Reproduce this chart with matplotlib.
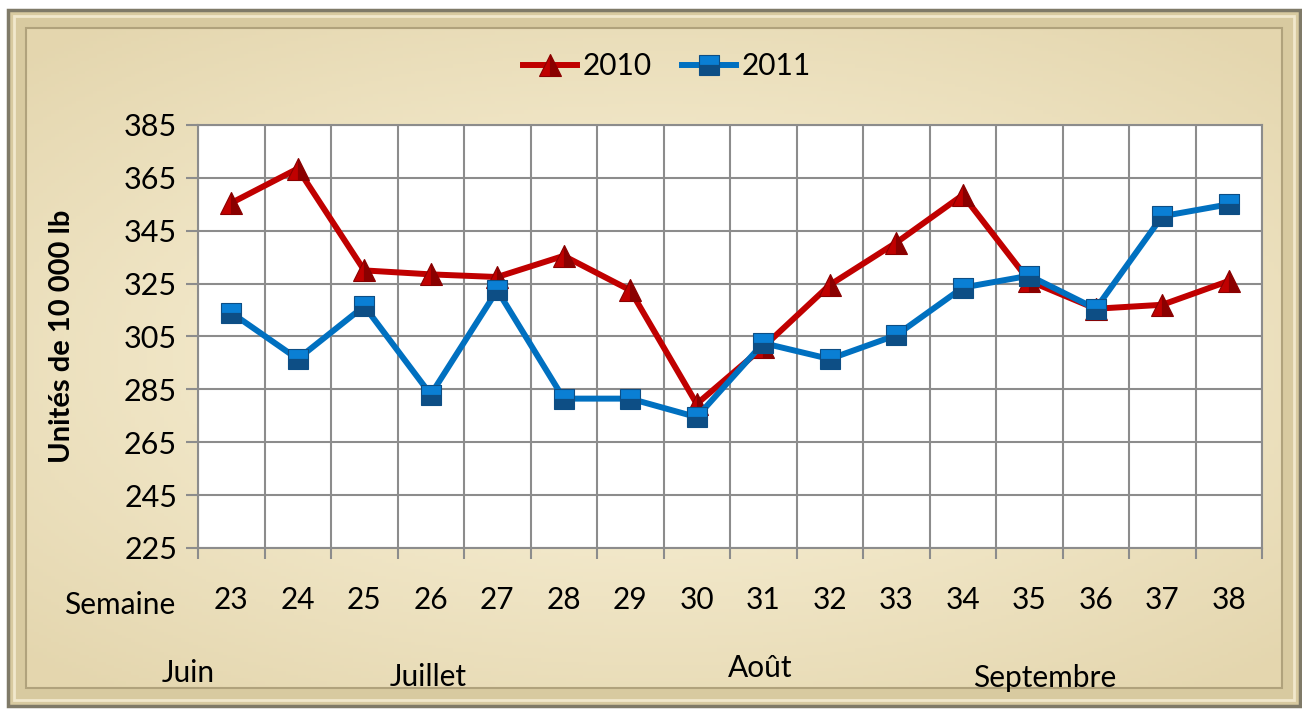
import numpy as np
import matplotlib
matplotlib.use("Agg")
import matplotlib.pyplot as plt
from matplotlib.patches import Rectangle
from matplotlib.transforms import blended_transform_factory

weeks = [23, 24, 25, 26, 27, 28, 29, 30, 31, 32, 33, 34, 35, 36, 37, 38]
y2010 = [355.5, 368.5, 330, 328.5, 327.5, 335.5, 322.5, 279.5,
         301, 324.5, 340.5, 358.5, 326, 315.5, 317, 326]
y2011 = [314, 296.5, 316.5, 283, 322.5, 281.5, 281.5, 274.5,
         302.5, 296.5, 305.5, 323.5, 328, 315.5, 350.5, 355]
y_ticks = [225, 245, 265, 285, 305, 325, 345, 365, 385]
months = ["Juin", "Juillet", "Août", "Septembre"]

W, H = 1302, 710
plt.rcParams['font.family'] = ['Lato', 'DejaVu Sans']
fig = plt.figure(figsize=(W / 100, H / 100), dpi=100)
fig.patch.set_facecolor("white")


def fx(px):
    return px / W


def fy(py):
    return 1 - py / H


# beveled frame + cream gradient background
bg = fig.add_axes([0, 0, 1, 1], zorder=-5)
bg.set_xlim(0, W)
bg.set_ylim(H, 0)
bg.axis("off")
bg.add_patch(Rectangle((8, 10), 1292, 696, facecolor="#d8caa0",
                       edgecolor="#7f7a68", lw=2.5))
bg.add_patch(Rectangle((14, 16), 1280, 684, facecolor="none",
                       edgecolor="#f1e8cc", lw=2))
gx, gy = np.meshgrid(np.linspace(-1, 1, 300), np.linspace(-1, 1, 200))
r = np.clip(np.sqrt((gx * 0.9) ** 2 + (gy * 1.0) ** 2), 0, 1.3) / 1.3
c0 = np.array([0xfd, 0xf6, 0xdf]) / 255
c1 = np.array([0xe4, 0xd6, 0xae]) / 255
img = c0[None, None, :] * (1 - r[..., None]) + c1[None, None, :] * r[..., None]
bg.imshow(img, extent=(26, 1282, 688, 28), aspect="auto", zorder=1)
bg.add_patch(Rectangle((26, 28), 1256, 660, facecolor="none",
                       edgecolor="#b0a27c", lw=1.5, zorder=2))

ax = fig.add_axes([fx(198), fy(548), fx(1262) - fx(198), fy(125) - fy(548)])
ax.set_facecolor("white")
x = np.arange(len(weeks))

ax.plot(x, y2010, color="#c00000", lw=4.3, marker="^", markersize=16,
        markerfacecolor="#c00000", markerfacecoloralt="#8a0000",
        fillstyle="left", markeredgecolor="#8a0000", markeredgewidth=0.8,
        label="2010", zorder=3)
ax.plot(x, y2011, color="#0070c0", lw=4.3, marker="s", markersize=15,
        markerfacecolor="#0a7fd4", markerfacecoloralt="#0d4e85",
        fillstyle="top", markeredgecolor="#0d4e85", markeredgewidth=0.8,
        label="2011", zorder=4)

ax.set_xlim(-0.5, len(weeks) - 0.5)
ax.set_ylim(225, 385)
ax.set_yticks(y_ticks)
ax.set_xticks(np.arange(-0.5, len(weeks), 1))
ax.set_xticklabels([])
ax.grid(True, color="#8c8c8c", lw=1.5)
ax.set_axisbelow(True)
for s in ax.spines.values():
    s.set_color("#8c8c8c")
    s.set_linewidth(1.5)
ax.tick_params(axis="x", length=8, width=1.5, color="#8c8c8c")
ax.tick_params(axis="y", length=9, width=1.5, color="#8c8c8c",
               labelsize=22, pad=6)

trans = blended_transform_factory(ax.transData, ax.transAxes)
for i, w in enumerate(weeks):
    ax.text(i, -0.123, str(w), transform=trans, ha="center", va="center",
            fontsize=21.5)

ax.set_ylabel("Unités de 10 000 lb", fontsize=21, fontweight="bold")
ax.yaxis.set_label_coords((75 - 198) / 1064, 0.5)

fig.text(fx(120), fy(605), "Semaine", ha="center", va="center", fontsize=21.5)
month_pos = [(188, 673), (428, 677), (760, 668), (1045, 678)]
for m, (px, py) in zip(months, month_pos):
    fig.text(fx(px), fy(py), m, ha="center", va="center", fontsize=21.5)

fig.legend(loc="center", bbox_to_anchor=(fx(667), fy(66)), ncol=2,
           frameon=False, fontsize=21.5, handlelength=1.8,
           handletextpad=0.2, columnspacing=1.0)

fig.savefig("out.png", dpi=100)
